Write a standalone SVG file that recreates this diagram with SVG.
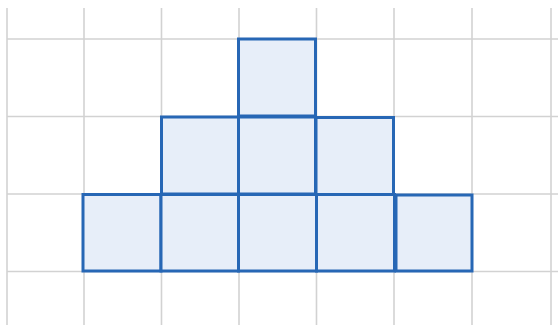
<svg xmlns="http://www.w3.org/2000/svg" width="558" height="329" viewBox="0 0 558 329">
<style>
.g{stroke:#d2d2d2;stroke-width:1.6;fill:none}
.sq{fill:#e7eef9;stroke:#2767b5;stroke-width:3}
</style>
<rect width="558" height="329" fill="#fff"/>
<g id="grid">
<line class="g" x1="7" y1="8" x2="7" y2="325"/>
<line class="g" x1="84" y1="8" x2="84" y2="325"/>
<line class="g" x1="161.5" y1="8" x2="161.5" y2="325"/>
<line class="g" x1="239" y1="8" x2="239" y2="325"/>
<line class="g" x1="316.5" y1="8" x2="316.5" y2="325"/>
<line class="g" x1="394" y1="8" x2="394" y2="325"/>
<line class="g" x1="472" y1="8" x2="472" y2="325"/>
<line class="g" x1="551" y1="8" x2="551" y2="325"/>
<line class="g" x1="7" y1="39" x2="558" y2="39"/>
<line class="g" x1="7" y1="116.5" x2="558" y2="116.5"/>
<line class="g" x1="7" y1="194" x2="558" y2="194"/>
<line class="g" x1="7" y1="271.5" x2="558" y2="271.5"/>
</g>
<g id="sq1"><rect class="sq" x="238.5" y="39" width="77" height="77"/></g>
<g id="sq2"><rect class="sq" x="161.5" y="117" width="77" height="77"/></g>
<g id="sq3"><rect class="sq" x="238.5" y="117" width="77" height="77"/></g>
<g id="sq4"><rect class="sq" x="316" y="117.5" width="77.5" height="77"/></g>
<g id="sq5"><rect class="sq" x="83" y="194.5" width="78" height="76.5"/></g>
<g id="sq6"><rect class="sq" x="161" y="194.5" width="77.5" height="76.5"/></g>
<g id="sq7"><rect class="sq" x="238.5" y="194.5" width="78" height="76.5"/></g>
<g id="sq8"><rect class="sq" x="316.5" y="194.5" width="78" height="76.5"/></g>
<g id="sq9"><rect class="sq" x="396" y="195" width="76" height="76"/></g>
</svg>
